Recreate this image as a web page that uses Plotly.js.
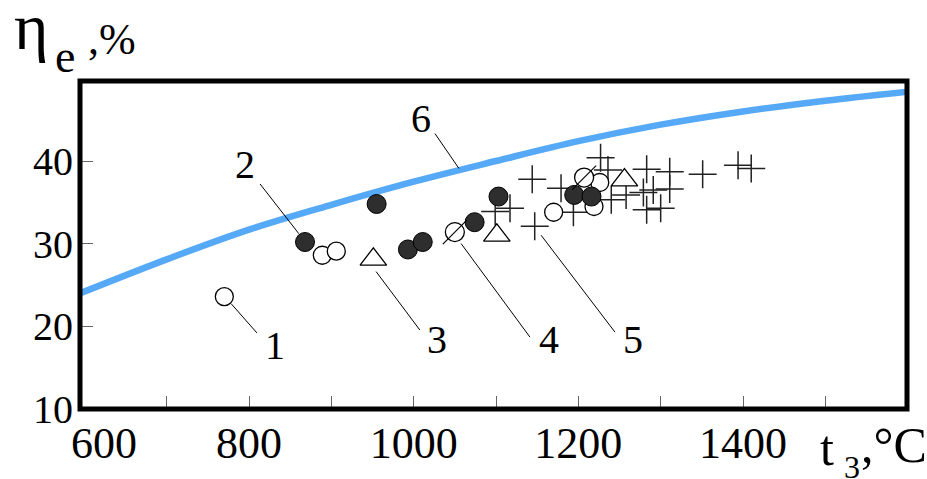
<!DOCTYPE html>
<html>
<head>
<meta charset="utf-8">
<script src="https://cdn.plot.ly/plotly-3.0.1.min.js"></script>
<style>html,body{margin:0;padding:0;background:#fff;}#chart{width:927px;height:479px;}</style>
</head>
<body>
<div id="chart"></div>
<script>
// Curve 6
const curveT   = [595, 700, 800, 900, 1000, 1100, 1200, 1300, 1400, 1500, 1600];
const curveEta = [24.0, 28.1, 31.7, 34.7, 37.5, 40.0, 42.4, 44.4, 46.0, 47.3, 48.4];
// Series 1: open circles
const s1T   = [770, 889, 906, 1170, 1226, 1219];
const s1Eta = [23.6, 28.6, 29.1, 33.8, 37.4, 34.5];
// Series 2: filled (hatched) circles
const s2T   = [868, 955, 993, 1011, 1074, 1103, 1195, 1216];
const s2Eta = [30.2, 34.8, 29.3, 30.2, 32.6, 35.7, 35.9, 35.7];
// Series 3: triangles
const s3T   = [951, 1101, 1256];
const s3Eta = [28.1, 31.0, 37.7];
// Series 4: slashed circles
const s4T   = [1050, 1207];
const s4Eta = [31.4, 38.0];
// Series 5: crosses
const s5T   = [1099, 1117, 1144, 1147, 1179, 1194, 1227, 1236, 1240, 1258, 1279, 1283, 1291, 1283, 1300, 1311, 1311, 1351, 1394, 1410];
const s5Eta = [33.9, 34.3, 37.8, 32.1, 36.7, 33.8, 40.4, 38.9, 35.3, 35.9, 36.2, 39.0, 36.5, 34.1, 34.3, 38.7, 36.6, 38.4, 39.5, 39.1];
// Ticks
const xTickVals = [700, 800, 900, 1000, 1100, 1200, 1300, 1400, 1500];
const xTickText = ['', '800', '', '1000', '', '1200', '', '1400', ''];
const yTickVals = [10, 20, 30, 40];
const yTickText = ['10', '20', '30', '40'];
// Callouts
const calloutText = ['1', '2', '3', '4', '5', '6'];
const calloutT    = [831.6, 795.1, 1028.3, 1164.4, 1266.4, 1008.9];
const calloutEta  = [17.7, 39.6, 18.35, 18.35, 18.35, 45.1];
const leaderT0    = [776.9, 812, 953, 1056.2, 1153.4, 1024.6];
const leaderEta0  = [22.9, 37.4, 26.8, 30.2, 31.2, 43.5];
const leaderT1    = [809.6, 860.6, 1007.5, 1141.2, 1244.5, 1055];
const leaderEta1  = [19.2, 31.2, 19.55, 18.7, 19.3, 39.1];

const FONT = 'Liberation Serif';

const traces = [
  {x: curveT, y: curveEta, mode: 'lines', line: {color: '#55a9f7', width: 6.5, shape: 'spline'}, hoverinfo: 'skip'},
  {x: s5T, y: s5Eta, mode: 'markers', marker: {symbol: 'cross-thin-open', size: 20, color: '#222', line: {width: 1.5, color: '#222'}}},
  {x: s1T, y: s1Eta, mode: 'markers', marker: {symbol: 'circle', size: 18, color: '#fff', line: {width: 1.3, color: '#000'}}},
  {x: s2T, y: s2Eta, mode: 'markers', marker: {symbol: 'circle', size: 19, color: '#2e2e2e', line: {width: 1, color: '#000'}}},
  {x: s3T, y: s3Eta, mode: 'markers', marker: {symbol: 'triangle-up', size: 23, color: '#fff', line: {width: 1.3, color: '#000'}}},
  {x: s4T, y: s4Eta, mode: 'markers', marker: {symbol: 'circle', size: 19, color: '#fff', line: {width: 1.3, color: '#000'}}},
  {x: s4T, y: s4Eta, mode: 'markers', marker: {symbol: 'line-ne-open', size: 24, color: '#000', line: {width: 1.2, color: '#000'}}}
];

const annotations = [];
for (let i = 0; i < calloutText.length; i++) {
  annotations.push({x: leaderT1[i], y: leaderEta1[i], ax: leaderT0[i], ay: leaderEta0[i], xref: 'x', yref: 'y', axref: 'x', ayref: 'y',
    text: '', showarrow: true, arrowhead: 0, arrowwidth: 1, arrowcolor: '#000', standoff: 0, startstandoff: 0});
  annotations.push({x: calloutT[i], y: calloutEta[i], xref: 'x', yref: 'y', text: calloutText[i], showarrow: false,
    xanchor: 'center', yanchor: 'middle', font: {family: FONT, size: 40, color: '#000'}});
}
annotations.push({x: 600, y: 0, xref: 'x', yref: 'paper', text: '600', showarrow: false, xshift: 20, yshift: -34,
  xanchor: 'center', yanchor: 'middle', font: {family: FONT, size: 44, color: '#000'}});
annotations.push({x: -0.082, y: 1.165, xref: 'paper', yref: 'paper', text: 'η', showarrow: false, xanchor: 'left', yanchor: 'middle', font: {family: FONT, size: 66, color: '#000'}});
annotations.push({x: -0.0326, y: 1.076, xref: 'paper', yref: 'paper', text: 'e', showarrow: false, xanchor: 'left', yanchor: 'middle', font: {family: FONT, size: 46, color: '#000'}});
annotations.push({x: 0.0073, y: 1.128, xref: 'paper', yref: 'paper', text: ',%', showarrow: false, xanchor: 'left', yanchor: 'middle', font: {family: FONT, size: 44, color: '#000'}});
annotations.push({x: 0.8924, y: -0.119, xref: 'paper', yref: 'paper', text: 't', showarrow: false, xanchor: 'left', yanchor: 'middle', font: {family: FONT, size: 50, color: '#000'}});
annotations.push({x: 0.9214, y: -0.177, xref: 'paper', yref: 'paper', text: '3', showarrow: false, xanchor: 'left', yanchor: 'middle', font: {family: FONT, size: 32, color: '#000'}});
annotations.push({x: 0.942, y: -0.110, xref: 'paper', yref: 'paper', text: ',°C', showarrow: false, xanchor: 'left', yanchor: 'middle', font: {family: FONT, size: 50, color: '#000'}});

const layout = {
  width: 927, height: 479,
  margin: {l: 80, r: 20, t: 81, b: 70},
  paper_bgcolor: '#fff', plot_bgcolor: '#fff',
  showlegend: false,
  font: {family: FONT, color: '#000'},
  xaxis: {range: [594.7, 1599.2], showgrid: false, zeroline: false, showline: false,
    tickmode: 'array', tickvals: xTickVals, ticktext: xTickText, ticks: 'inside', ticklen: 13, tickwidth: 1, tickcolor: '#666',
    tickfont: {family: FONT, size: 44, color: '#000'}, ticklabelstandoff: 4},
  yaxis: {range: [10, 49.68], showgrid: false, zeroline: false, showline: false,
    tickmode: 'array', tickvals: yTickVals, ticktext: yTickText, ticks: 'inside', ticklen: 13, tickwidth: 1, tickcolor: '#666',
    tickfont: {family: FONT, size: 40, color: '#000'}, ticklabelstandoff: 6},
  shapes: [{type: 'rect', xref: 'paper', yref: 'paper', x0: 0, x1: 1, y0: 0, y1: 1, line: {color: '#000', width: 5}, layer: 'above'}],
  annotations: annotations
};

Plotly.newPlot('chart', traces, layout, {staticPlot: true, displayModeBar: false});
</script>
</body>
</html>
